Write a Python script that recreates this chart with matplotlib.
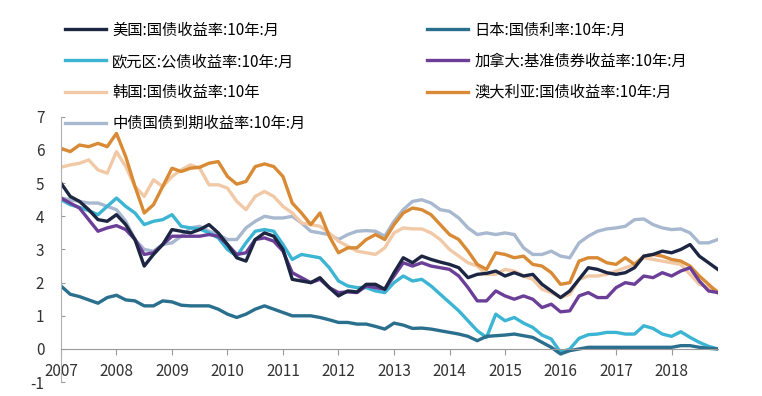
import numpy as np
import matplotlib
matplotlib.use('Agg')
import matplotlib.pyplot as plt

plt.rcParams['font.family'] = ['Noto Sans CJK SC', 'DejaVu Sans']
plt.rcParams['axes.unicode_minus'] = False

# bimonthly observations, Jan 2007 .. Nov 2018
n_points = 72
years = 2007 + np.arange(n_points) / 6

us = [5.0, 4.6, 4.45, 4.2, 3.9, 3.85, 4.05, 3.75, 3.3, 2.5,
      2.85, 3.15, 3.6, 3.55, 3.5, 3.6, 3.75, 3.5, 3.15, 2.75,
      2.65, 3.3, 3.5, 3.4, 3.0, 2.1, 2.05, 2.0, 2.15, 1.85,
      1.6, 1.75, 1.72, 1.95, 1.95, 1.8, 2.3, 2.75, 2.6, 2.8,
      2.7, 2.62, 2.55, 2.45, 2.15, 2.25, 2.28, 2.35, 2.2, 2.3,
      2.2, 2.25, 1.95, 1.75, 1.55, 1.75, 2.1, 2.45, 2.4, 2.3,
      2.25, 2.3, 2.45, 2.8, 2.85, 2.95, 2.9, 3.0, 3.15, 2.8,
      2.6, 2.4]
japan = [1.9, 1.65, 1.58, 1.48, 1.38, 1.55, 1.62, 1.48, 1.45, 1.3,
         1.3, 1.45, 1.42, 1.32, 1.3, 1.3, 1.3, 1.2, 1.05, 0.95,
         1.05, 1.2, 1.3, 1.2, 1.1, 1.0, 1.0, 1.0, 0.95, 0.88,
         0.8, 0.8, 0.75, 0.75, 0.68, 0.6, 0.78, 0.72, 0.62, 0.63,
         0.6, 0.55, 0.5, 0.45, 0.38, 0.25, 0.38, 0.4, 0.42, 0.45,
         0.4, 0.35, 0.2, 0.05, -0.15, -0.05, 0.0, 0.05, 0.05, 0.05,
         0.05, 0.05, 0.05, 0.05, 0.05, 0.05, 0.05, 0.1, 0.1, 0.05,
         0.02, 0.0]
euro = [4.5, 4.35, 4.27, 4.17, 4.05, 4.3, 4.55, 4.3, 4.1, 3.75,
        3.85, 3.9, 4.05, 3.7, 3.65, 3.62, 3.5, 3.35, 3.0, 2.8,
        3.2, 3.55, 3.6, 3.55, 3.15, 2.7, 2.85, 2.8, 2.75, 2.45,
        2.05, 1.9, 1.85, 1.85, 1.75, 1.7, 2.0, 2.2, 2.05, 2.1,
        1.9, 1.65, 1.4, 1.15, 0.85, 0.55, 0.35, 1.05, 0.85, 0.95,
        0.78, 0.65, 0.42, 0.3, -0.1, 0.0, 0.32, 0.43, 0.45, 0.5,
        0.5, 0.45, 0.45, 0.7, 0.62, 0.45, 0.38, 0.52, 0.35, 0.2,
        0.08, 0.0]
canada = [4.55, 4.4, 4.25, 3.9, 3.55, 3.65, 3.72, 3.6, 3.3, 2.85,
          2.9, 3.15, 3.4, 3.4, 3.4, 3.4, 3.45, 3.4, 3.15, 2.85,
          2.9, 3.3, 3.35, 3.25, 2.95, 2.3, 2.15, 2.0, 2.1, 1.85,
          1.7, 1.72, 1.7, 1.9, 1.85, 1.8, 2.2, 2.6, 2.5, 2.6,
          2.5, 2.45, 2.4, 2.2, 1.85, 1.45, 1.45, 1.75, 1.6, 1.5,
          1.6, 1.5, 1.25, 1.35, 1.12, 1.15, 1.6, 1.7, 1.55, 1.55,
          1.85, 2.0, 1.95, 2.2, 2.15, 2.3, 2.2, 2.35, 2.45, 2.05,
          1.75, 1.7]
korea = [5.48, 5.55, 5.6, 5.7, 5.4, 5.3, 5.95, 5.5, 4.9, 4.6,
         5.1, 4.9, 5.2, 5.4, 5.55, 5.45, 4.95, 4.95, 4.85, 4.45,
         4.2, 4.6, 4.75, 4.6, 4.3, 4.1, 3.8, 3.75, 3.7, 3.5,
         3.25, 3.1, 2.95, 2.9, 2.85, 3.05, 3.5, 3.65, 3.62, 3.62,
         3.5, 3.3, 3.0, 2.8, 2.6, 2.5, 2.25, 2.25, 2.4, 2.35,
         2.2, 2.1, 1.8, 1.7, 1.55, 1.65, 2.1, 2.2, 2.2, 2.25,
         2.35, 2.45, 2.55, 2.75, 2.7, 2.65, 2.6, 2.55, 2.25, 1.95,
         1.85, 1.75]
australia = [6.05, 5.95, 6.15, 6.1, 6.2, 6.1, 6.5, 5.8, 4.9, 4.1,
             4.35, 4.9, 5.45, 5.35, 5.45, 5.48, 5.6, 5.65, 5.2, 4.97,
             5.05, 5.5, 5.58, 5.5, 5.2, 4.4, 4.1, 3.75, 4.1, 3.4,
             2.9, 3.05, 3.05, 3.3, 3.45, 3.3, 3.75, 4.1, 4.25, 4.2,
             4.05, 3.75, 3.45, 3.3, 2.95, 2.55, 2.4, 2.9, 2.85, 2.75,
             2.8, 2.55, 2.5, 2.3, 1.95, 2.0, 2.65, 2.75, 2.75, 2.6,
             2.55, 2.75, 2.55, 2.8, 2.85, 2.8, 2.7, 2.65, 2.5, 2.2,
             1.95, 1.7]
china = [4.55, 4.5, 4.45, 4.4, 4.4, 4.3, 4.2, 3.85, 3.3, 3.0,
         2.95, 3.15, 3.2, 3.4, 3.65, 3.7, 3.55, 3.45, 3.3, 3.3,
         3.65, 3.85, 4.0, 3.95, 3.95, 4.0, 3.8, 3.55, 3.5, 3.45,
         3.3, 3.45, 3.55, 3.57, 3.55, 3.4, 3.85, 4.2, 4.45, 4.5,
         4.4, 4.2, 4.15, 3.95, 3.65, 3.45, 3.5, 3.45, 3.5, 3.45,
         3.05, 2.85, 2.85, 2.95, 2.8, 2.75, 3.2, 3.4, 3.55, 3.62,
         3.65, 3.7, 3.9, 3.92, 3.75, 3.65, 3.6, 3.62, 3.5, 3.2,
         3.2, 3.3]

labels = ["美国:国债收益率:10年:月", "日本:国债利率:10年:月",
          "欧元区:公债收益率:10年:月", "加拿大:基准债券收益率:10年:月",
          "韩国:国债收益率:10年", "澳大利亚:国债收益率:10年:月",
          "中债国债到期收益率:10年:月"]
series = [us, japan, euro, canada, korea, australia, china]
colors = ["#1c2541", "#2b6f8e", "#3bb5d3", "#6b3f98",
          "#f2c9a6", "#d98a34", "#a7b8cf"]
year_ticks = list(range(2007, 2019))

fig = plt.figure(figsize=(7.62, 3.96), dpi=100)
ax = fig.add_axes([0.080, 0.035, 0.862, 0.670])

lines = {}
for idx in [6, 4, 5, 2, 1, 3, 0]:
    ln, = ax.plot(years, series[idx], color=colors[idx], lw=2.4,
                  solid_joinstyle='round', label=labels[idx])
    lines[idx] = ln

ax.set_xlim(2007, years[-1])
ax.set_ylim(-1, 7)
ax.set_yticks(range(-1, 8))
ax.set_xticks(year_ticks)
ax.set_xticklabels([str(y) for y in year_ticks])

for s in ['top', 'right']:
    ax.spines[s].set_visible(False)
ax.spines['bottom'].set_position(('data', 0))
ax.spines['bottom'].set_color('#9a9a9a')
ax.spines['left'].set_color('#b0b0b0')
ax.tick_params(axis='y', direction='in', length=3, color='#9a9a9a',
               labelsize=11, labelcolor='#333333', pad=12)
ax.tick_params(axis='x', direction='out', length=4, color='#9a9a9a',
               labelsize=11, labelcolor='#333333', pad=6)

leg_kw = dict(loc='upper left', frameon=False, fontsize=11, handlelength=2.7,
              handletextpad=0.4, labelspacing=0.92, borderpad=0, borderaxespad=0)
left_col = [0, 2, 4, 6]
right_col = [1, 3, 5]
leg1 = fig.legend([lines[i] for i in left_col], [labels[i] for i in left_col],
                  bbox_to_anchor=(0.085, 0.945), **leg_kw)
fig.legend([lines[i] for i in right_col], [labels[i] for i in right_col],
           bbox_to_anchor=(0.560, 0.945), **leg_kw)

fig.savefig('out.png', dpi=100)
